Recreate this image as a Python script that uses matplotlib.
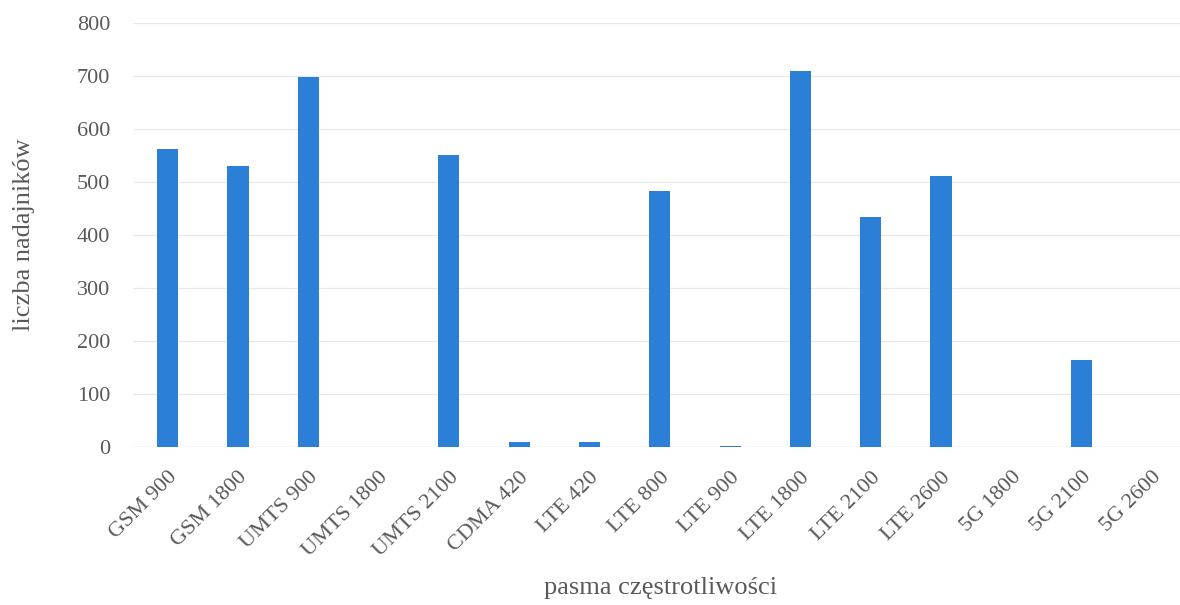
import matplotlib.pyplot as plt
import matplotlib.transforms as mtransforms
import numpy as np

plt.rcParams['font.family'] = ['Liberation Serif', 'DejaVu Serif']

# liczba nadajników w poszczególnych pasmach
pasma = ['GSM 900', 'GSM 1800', 'UMTS 900', 'UMTS 1800', 'UMTS 2100',
         'CDMA 420', 'LTE 420', 'LTE 800', 'LTE 900', 'LTE 1800',
         'LTE 2100', 'LTE 2600', '5G 1800', '5G 2100', '5G 2600']
nadajniki = [562, 530, 698, 0, 551, 10, 10, 484, 2, 709, 434, 511, 0, 164, 0]
y_ticks = [0, 100, 200, 300, 400, 500, 600, 700, 800]

text_col = '#595959'
bar_col = '#2b7fd6'

fig = plt.figure(figsize=(11.8, 6.05), dpi=100)
ax = fig.add_axes([0.1123, 0.261, 0.8877, 0.701])

x = np.arange(len(pasma))
ax.bar(x, nadajniki, width=0.30, color=bar_col, zorder=3)

ax.set_xlim(-0.5, len(pasma) - 0.6)
ax.set_ylim(0, 800)
ax.set_yticks(y_ticks)
ax.yaxis.grid(True, color='#e8e8e8', linewidth=0.9, zorder=0)
ax.axhline(0, color='#dddddd', linewidth=1.0, zorder=2)

for s in ax.spines.values():
    s.set_visible(False)
ax.tick_params(axis='both', length=0, labelsize=16, colors=text_col)
ax.tick_params(axis='y', pad=16)

ax.set_xticks(x)
ax.set_xticklabels(pasma, rotation=45, ha='right', rotation_mode='anchor')
shift = mtransforms.ScaledTranslation(-5 / 100, 0, fig.dpi_scale_trans)
for lbl in ax.get_xticklabels():
    lbl.set_color(text_col)
    lbl.set_transform(lbl.get_transform() + shift)
ax.tick_params(axis='x', pad=15)

ax.set_ylabel('liczba nadajników', fontsize=19, color=text_col, labelpad=30)
fig.text(0.56, 0.01, 'pasma częstrotliwości', fontsize=19, color=text_col,
         ha='center', va='bottom')

fig.savefig('out.png', dpi=100)
